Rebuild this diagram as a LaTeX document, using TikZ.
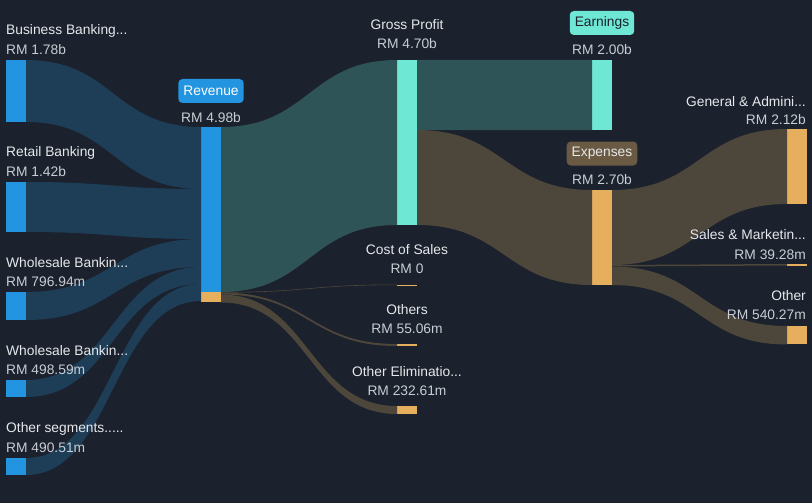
\documentclass[tikz,border=0pt]{standalone}
\usepackage{fontspec}
\setmainfont{Liberation Sans}
\usetikzlibrary{calc}

\definecolor{bg}{HTML}{1B212D}
\definecolor{revblue}{HTML}{2394DF}
\definecolor{blueflow}{HTML}{1E3E58}
\definecolor{tealflow}{HTML}{2F5457}
\definecolor{cyanbar}{HTML}{6EE7D4}
\definecolor{orangebar}{HTML}{E5AF5E}
\definecolor{brownflow}{HTML}{4D463A}
\definecolor{expbox}{HTML}{6B5A43}
\definecolor{namec}{HTML}{E6E8EB}
\definecolor{valc}{HTML}{C9CED4}

% ribbon from one bar to the next: source, offset, target, offset, thickness, colour
\newcommand\sankeyflow[6]{%
  \path[fill=#6] let \p1=(#1.north east), \p2=(#3.north west) in
    (\x1,\y1-#2pt) .. controls ({(\x1+\x2)/2},\y1-#2pt) and ({(\x1+\x2)/2},\y2-#4pt) .. (\x2,\y2-#4pt)
    -- (\x2,\y2-#4pt-#5pt) .. controls ({(\x1+\x2)/2},\y2-#4pt-#5pt) and ({(\x1+\x2)/2},\y1-#2pt-#5pt) .. (\x1,\y1-#2pt-#5pt)
    -- cycle;}

\tikzset{
  bar/.style={fill=#1, minimum width=20pt, inner sep=0pt, outer sep=0pt},
  segname/.style={text=namec, font=\fontsize{13.8}{16}\selectfont, inner sep=0pt, yshift=-1.5pt},
  segvalue/.style={text=valc, font=\fontsize{13.8}{16}\selectfont, inner sep=0pt, yshift=-1.5pt},
  tag/.style={fill=#1, rounded corners=4pt, font=\fontsize{13.8}{16}\selectfont, inner xsep=5pt, minimum height=24pt}
}

\begin{document}
\begin{tikzpicture}[x=1pt,y=-1pt]
        \fill[bg] (0,0) rectangle (812,503);
        \useasboundingbox (0,0) rectangle (812,503);

        % bars
        \node[bar=revblue, minimum height=62pt] (bb) at (16,91) {};
        \node[bar=revblue, minimum height=50pt] (rb) at (16,207) {};
        \node[bar=revblue, minimum height=28pt] (wb1) at (16,306) {};
        \node[bar=revblue, minimum height=17pt] (wb2) at (16,388.5) {};
        \node[bar=revblue, minimum height=17pt] (os) at (16,466.5) {};

        \node[bar=revblue, minimum height=175pt] (rev) at (211,214.5) {};
        \node[bar=orangebar, minimum height=10pt] (revo) at (211,297) {};

        \node[bar=cyanbar, minimum height=165pt] (gp) at (407,142.5) {};
        \node[bar=orangebar, minimum height=1pt] (cos) at (407,285) {};
        \node[bar=orangebar, minimum height=2pt] (oth) at (407,345) {};
        \node[bar=orangebar, minimum height=8pt] (oe) at (407,410) {};

        \node[bar=cyanbar, minimum height=70pt] (earn) at (602,95) {};
        \node[bar=orangebar, minimum height=95pt] (exp) at (602,237.5) {};

        \node[bar=orangebar, minimum height=75pt] (ga) at (797,166.5) {};
        \node[bar=orangebar, minimum height=1.5pt] (sm) at (797,264.75) {};
        \node[bar=orangebar, minimum height=18pt] (ot) at (797,335) {};

        % flows
        \sankeyflow{bb}{0}{rev}{0}{62}{blueflow}
        \sankeyflow{rb}{0}{rev}{62}{50}{blueflow}
        \sankeyflow{wb1}{0}{rev}{112}{28}{blueflow}
        \sankeyflow{wb2}{0}{rev}{140}{17}{blueflow}
        \sankeyflow{os}{0}{rev}{157}{17}{blueflow}

        \sankeyflow{rev}{0}{gp}{0}{165}{tealflow}
        \sankeyflow{rev}{165}{cos}{0}{0.6}{brownflow}
        \sankeyflow{rev}{165.5}{oth}{0}{2}{brownflow}
        \sankeyflow{rev}{167.5}{oe}{0}{8}{brownflow}

        \sankeyflow{gp}{0}{earn}{0}{70}{tealflow}
        \sankeyflow{gp}{70}{exp}{0}{95}{brownflow}

        \sankeyflow{exp}{0}{ga}{0}{75}{brownflow}
        \sankeyflow{exp}{75}{sm}{0}{1.5}{brownflow}
        \sankeyflow{exp}{76.5}{ot}{0}{18.5}{brownflow}

        % labels
        \node[segname, anchor=west] (lbb) at (6,29) {Business Banking...};
        \node[segvalue, anchor=west] (vbb) at (6,48) {RM 1.78b};
        \node[segname, anchor=west] (lrb) at (6,151) {Retail Banking};
        \node[segvalue, anchor=west] (vrb) at (6,170) {RM 1.42b};
        \node[segname, anchor=west] (lwb1) at (6,261) {Wholesale Bankin...};
        \node[segvalue, anchor=west] (vwb1) at (6,280) {RM 796.94m};
        \node[segname, anchor=west] (lwb2) at (6,349) {Wholesale Bankin...};
        \node[segvalue, anchor=west] (vwb2) at (6,368) {RM 498.59m};
        \node[segname, anchor=west] (los) at (6,427) {Other segments.....};
        \node[segvalue, anchor=west] (vos) at (6,446) {RM 490.51m};

        \node[tag=revblue, text=white] (lrev) at (211,91) {Revenue};
        \node[segvalue] (vrev) at (211,116) {RM 4.98b};

        \node[segname] (lgp) at (407,23) {Gross Profit};
        \node[segvalue] (vgp) at (407,42) {RM 4.70b};
        \node[segname] (lcos) at (407,248) {Cost of Sales};
        \node[segvalue] (vcos) at (407,267) {RM 0};
        \node[segname] (loth) at (407,308) {Others};
        \node[segvalue] (voth) at (407,327) {RM 55.06m};
        \node[segname] (loe) at (407,370) {Other Eliminatio...};
        \node[segvalue] (voe) at (407,389) {RM 232.61m};

        \node[tag=cyanbar, text=bg] (learn) at (602,23) {Earnings};
        \node[segvalue] (vearn) at (602,48) {RM 2.00b};
        \node[tag=expbox, text=namec] (lexp) at (602,153.5) {Expenses};
        \node[segvalue] (vexp) at (602,178) {RM 2.70b};

        \node[segname, anchor=east] (lga) at (806,100) {General \& Admini...};
        \node[segvalue, anchor=east] (vga) at (806,118) {RM 2.12b};
        \node[segname, anchor=east] (lsm) at (806,233) {Sales \& Marketin...};
        \node[segvalue, anchor=east] (vsm) at (806,253) {RM 39.28m};
        \node[segname, anchor=east] (lot) at (806,294) {Other};
        \node[segvalue, anchor=east] (vot) at (806,313) {RM 540.27m};
    \end{tikzpicture}
\end{document}
